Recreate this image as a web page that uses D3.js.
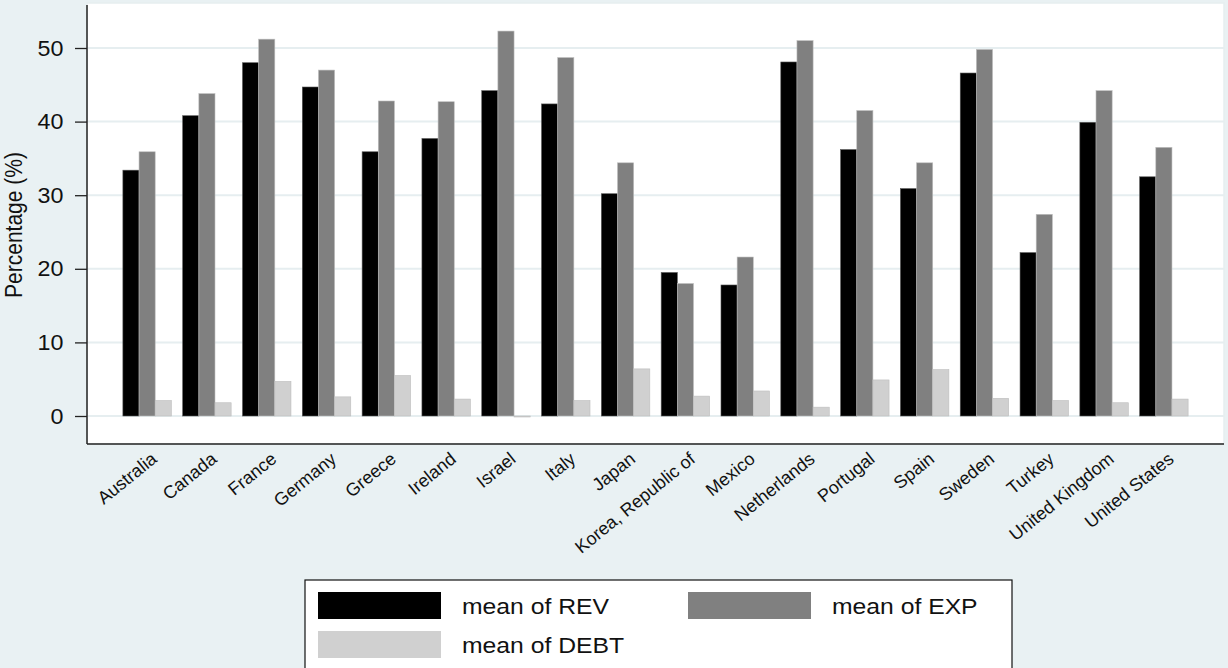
<!DOCTYPE html>
<html>
<head>
<meta charset="utf-8">
<script src="https://cdn.jsdelivr.net/npm/d3@7"></script>
<style>
  html, body { margin: 0; padding: 0; background: #e9f1f3; }
  svg { display: block; font-family: "Liberation Sans", Arial, sans-serif; }
</style>
</head>
<body>
<svg id="chart" width="1228" height="668"></svg>
<script>
// Country categories and the three mean series (percent)
const countries = ["Australia", "Canada", "France", "Germany", "Greece", "Ireland", "Israel",
  "Italy", "Japan", "Korea, Republic of", "Mexico", "Netherlands", "Portugal", "Spain",
  "Sweden", "Turkey", "United Kingdom", "United States"];
const rev  = [33.4, 40.8, 48.0, 44.7, 35.9, 37.7, 44.2, 42.4, 30.2, 19.5, 17.8, 48.1, 36.2, 30.9, 46.6, 22.2, 39.9, 32.5];
const exp  = [35.9, 43.8, 51.2, 47.0, 42.8, 42.7, 52.3, 48.7, 34.4, 18.0, 21.6, 51.0, 41.5, 34.4, 49.8, 27.4, 44.2, 36.5];
const debt = [2.1, 1.8, 4.7, 2.6, 5.5, 2.3, -0.1, 2.1, 6.4, 2.7, 3.4, 1.2, 4.9, 6.3, 2.4, 2.1, 1.8, 2.3];
const seriesNames = ["mean of REV", "mean of EXP", "mean of DEBT"];
const seriesColors = ["#000000", "#808080", "#d0d0d0"];
const yTicks = [0, 10, 20, 30, 40, 50];
const yTitle = "Percentage (%)";

const series = [rev, exp, debt];
const svg = d3.select("#chart");
const W = 1228, H = 668;
// text in this graphic is set slightly wide
const WIDE = 1.15;

const plot = { left: 87, right: 1224, top: 3, bottom: 444 };

// Outer background
svg.append("rect").attr("width", W).attr("height", H).attr("fill", "#e9f1f3");
// Plot region
svg.append("rect")
  .attr("x", plot.left).attr("y", plot.top)
  .attr("width", plot.right - plot.left).attr("height", plot.bottom - plot.top)
  .attr("fill", "#ffffff").attr("stroke", "#e6eef0").attr("stroke-width", 1.5);

const x = d3.scaleBand().domain(countries)
  .range([plot.left, plot.right]).paddingInner(0.19).paddingOuter(0.6);
const xs = d3.scaleBand().domain(d3.range(series.length))
  .range([0, x.bandwidth()]);
const y = d3.scaleLinear().domain([0, 50]).range([416, 48]);

// Horizontal gridlines
svg.append("g").selectAll("line").data(yTicks).join("line")
  .attr("x1", plot.left).attr("x2", plot.right)
  .attr("y1", d => y(d)).attr("y2", d => y(d))
  .attr("stroke", "#e6eef0").attr("stroke-width", 2);

// Bars
const groups = svg.append("g").selectAll("g").data(countries).join("g")
  .attr("transform", d => `translate(${x(d)},0)`);
groups.selectAll("rect")
  .data((c, i) => series.map((s, k) => ({ k, v: s[i] })))
  .join("rect")
  .attr("x", d => xs(d.k))
  .attr("width", xs.bandwidth())
  .attr("y", d => Math.min(y(d.v), y(0)))
  .attr("height", d => Math.max(Math.abs(y(d.v) - y(0)), 1))
  .attr("fill", d => seriesColors[d.k])
  .attr("stroke", d => d.k === 0 ? "#555" : "#bdbdbd")
  .attr("stroke-width", 0.6);

// Y axis
const yAxis = d3.axisLeft(y).tickValues(yTicks).tickSize(12).tickPadding(11);
const gy = svg.append("g").attr("transform", `translate(${plot.left},0)`).call(yAxis);
gy.select(".domain").remove();
gy.selectAll(".tick line").attr("stroke", "#222").attr("stroke-width", 1.3);
gy.selectAll(".tick text")
  .attr("font-size", 22).attr("fill", "#111")
  .attr("font-family", "'Liberation Sans', Arial, sans-serif")
  .attr("x", 0)
  .attr("transform", "translate(-23.5,0) scale(1.06,1)");

// Axis lines
svg.append("line").attr("x1", plot.left).attr("x2", plot.left)
  .attr("y1", 5).attr("y2", plot.bottom).attr("stroke", "#222").attr("stroke-width", 1.5);
svg.append("line").attr("x1", plot.left).attr("x2", plot.right)
  .attr("y1", plot.bottom).attr("y2", plot.bottom).attr("stroke", "#222").attr("stroke-width", 1.5);

// Y title
svg.append("text")
  .attr("transform", `translate(22,225) scale(${WIDE},1) rotate(-90)`)
  .attr("text-anchor", "middle")
  .attr("font-size", 21).attr("fill", "#111")
  .text(yTitle);

// Category labels, rotated
const xAxis = d3.axisBottom(x).tickSize(0).tickPadding(0);
const gx = svg.append("g").attr("transform", `translate(0,${plot.bottom})`).call(xAxis);
gx.select(".domain").remove();
gx.selectAll(".tick text")
  .attr("font-size", 18).attr("fill", "#111")
  .attr("font-family", "'Liberation Sans', Arial, sans-serif")
  .attr("text-anchor", "end")
  .attr("dy", 0)
  .attr("y", 0)
  .attr("transform", "translate(11,17) rotate(-39)");

// Legend
const lg = svg.append("g");
lg.append("rect").attr("x", 305).attr("y", 580).attr("width", 707).attr("height", 100)
  .attr("fill", "#ffffff").attr("stroke", "#111").attr("stroke-width", 1.2);
const legendPos = [
  { sx: 318, ty: 592 },
  { sx: 688, ty: 592 },
  { sx: 318, ty: 631 }
];
seriesNames.forEach((name, k) => {
  const p = legendPos[k];
  lg.append("rect").attr("x", p.sx).attr("y", p.ty).attr("width", 123).attr("height", 27)
    .attr("fill", seriesColors[k]);
  lg.append("text")
    .attr("transform", `translate(${p.sx + 144},${p.ty + 21.5}) scale(${WIDE},1)`)
    .attr("font-size", 21.5).attr("fill", "#111").text(name);
});
</script>
</body>
</html>
